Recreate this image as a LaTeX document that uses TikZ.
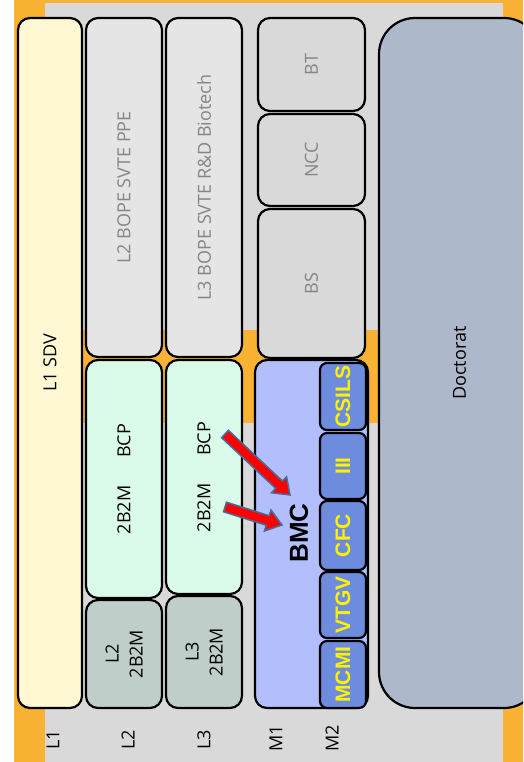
\documentclass[tikz,border=0pt]{standalone}
\usepackage{fontspec}
\setmainfont{Open Sans}
\newfontfamily\boldsans{Liberation Sans}
\usepackage{tikz}
\usetikzlibrary{calc,positioning}

\definecolor{frameorange}{HTML}{F9B233}
\definecolor{bggray}{HTML}{D9D9D9}
\definecolor{sdvfill}{HTML}{FFF8D3}
\definecolor{bopefill}{HTML}{E5E5E5}
\definecolor{bcpfill}{HTML}{DBFBEA}
\definecolor{licfill}{HTML}{BFCEC9}
\definecolor{bmcfill}{HTML}{B3BFFC}
\definecolor{teamfill}{HTML}{6E8CDD}
\definecolor{docfill}{HTML}{ADB8CA}
\definecolor{arrowedge}{HTML}{41719C}
\definecolor{greytext}{HTML}{858585}

\tikzset{
  blk/.style={draw, line width=2.2pt, rounded corners=12pt, rotate=90, inner sep=0pt,
    font=\fontsize{18}{24}\selectfont, align=center},
  team/.style={blk, rounded corners=7pt, fill=teamfill, text=yellow, minimum height=46pt,
    font=\boldsans\bfseries\fontsize{21}{22}\selectfont},
  lvl/.style={rotate=90, inner sep=0pt, font=\fontsize{18}{20}\selectfont},
  redarrow/.style={fill=red, draw=arrowedge, line width=1.5pt, line join=miter},
}

% block arrow from #1 (tail) to #2 (tip)
\newcommand{\blockarrow}[2]{%
  \coordinate (hb) at ($(#2)!15pt!(#1)$);
  \draw[redarrow] ($(#1)!5pt!90:(#2)$) -- ($(hb)!5pt!-90:(#1)$) -- ($(hb)!11pt!-90:(#1)$)
    -- (#2) -- ($(hb)!11pt!90:(#1)$) -- ($(hb)!5pt!90:(#1)$) -- ($(#1)!5pt!-90:(#2)$) -- cycle;}

\begin{document}
\begin{tikzpicture}[x=1pt, y=-1pt]
  \clip (0,0) rectangle (523,762);
  % background
  \fill[frameorange] (14,0) rectangle (523,762);
  \fill[bggray] (45,3) rectangle (503,330);
  \fill[bggray] (45,423) rectangle (503,762);

  % licence
  \node[blk, fill=sdvfill, minimum width=690pt, minimum height=64pt] (sdv) at (50,363) {L1 SDV};
  \node[blk, fill=bopefill, text=greytext, minimum width=339pt, minimum height=76pt] (ppe) at (124,187.5) {L2 BOPE SVTE PPE};
  \node[blk, fill=bopefill, text=greytext, minimum width=339pt, minimum height=76pt] (biotech) at (204,187.5) {L3 BOPE SVTE R\&D Biotech};
  \node[blk, fill=bcpfill, minimum width=238pt, minimum height=76pt] (bcpA) at (124,479) {2B2M\hspace{28pt}BCP};
  \node[blk, fill=bcpfill, minimum width=234pt, minimum height=76pt] (bcpB) at (204,477) {2B2M\hspace{28pt}BCP};
  \node[blk, fill=licfill, minimum width=108pt, minimum height=76pt] (ltwo) at (124,654) {L2\\2B2M};
  \node[blk, fill=licfill, minimum width=112pt, minimum height=76pt] (lthree) at (204,652) {L3\\2B2M};

  % master
  \node[blk, fill=bggray, text=greytext, minimum width=93pt, minimum height=107pt] (bt) at (311.5,64.5) {BT};
  \node[blk, fill=bggray, text=greytext, minimum width=92pt, minimum height=107pt] (ncc) at (311.5,160) {NCC};
  \node[blk, fill=bggray, text=greytext, minimum width=149pt, minimum height=107pt] (bs) at (311.5,283.5) {BS};
  \node[blk, fill=bmcfill, minimum width=348pt, minimum height=113pt] (bmc) at (311.5,534) {};
  \node[rotate=90, inner sep=0pt, font=\boldsans\bfseries\fontsize{26}{28}\selectfont] (bmclabel) at (299,533) {BMC};
  \node[team, minimum width=67pt] (csils) at (343,396.5) {CSILS};
  \node[team, minimum width=66pt] (iii) at (343,466) {III};
  \node[team, minimum width=69pt] (cfc) at (343,535.5) {CFC};
  \node[team, minimum width=66pt] (vtgv) at (343,605) {VTGV};
  \node[team, minimum width=67pt] (mcmi) at (343,674.5) {MCMI};

  % doctorat
  \node[blk, rounded corners=36pt, fill=docfill, minimum width=690pt, minimum height=161pt] (doc) at (459.5,363) {Doctorat};

  % arrows
  \coordinate (tailA) at (225,434);
  \coordinate (tipA) at (290,495);
  \coordinate (tailB) at (225,507);
  \coordinate (tipB) at (282,525);
  \blockarrow{tailA}{tipA}
  \blockarrow{tailB}{tipB}

  % levels
  \node[lvl] (yL1) at (53,740) {L1};
  \node[lvl] (yL2) at (128,740) {L2};
  \node[lvl] (yL3) at (204,740) {L3};
  \node[lvl] (yM1) at (276,738) {M1};
  \node[lvl] (yM2) at (332,738) {M2};
\end{tikzpicture}
\end{document}
